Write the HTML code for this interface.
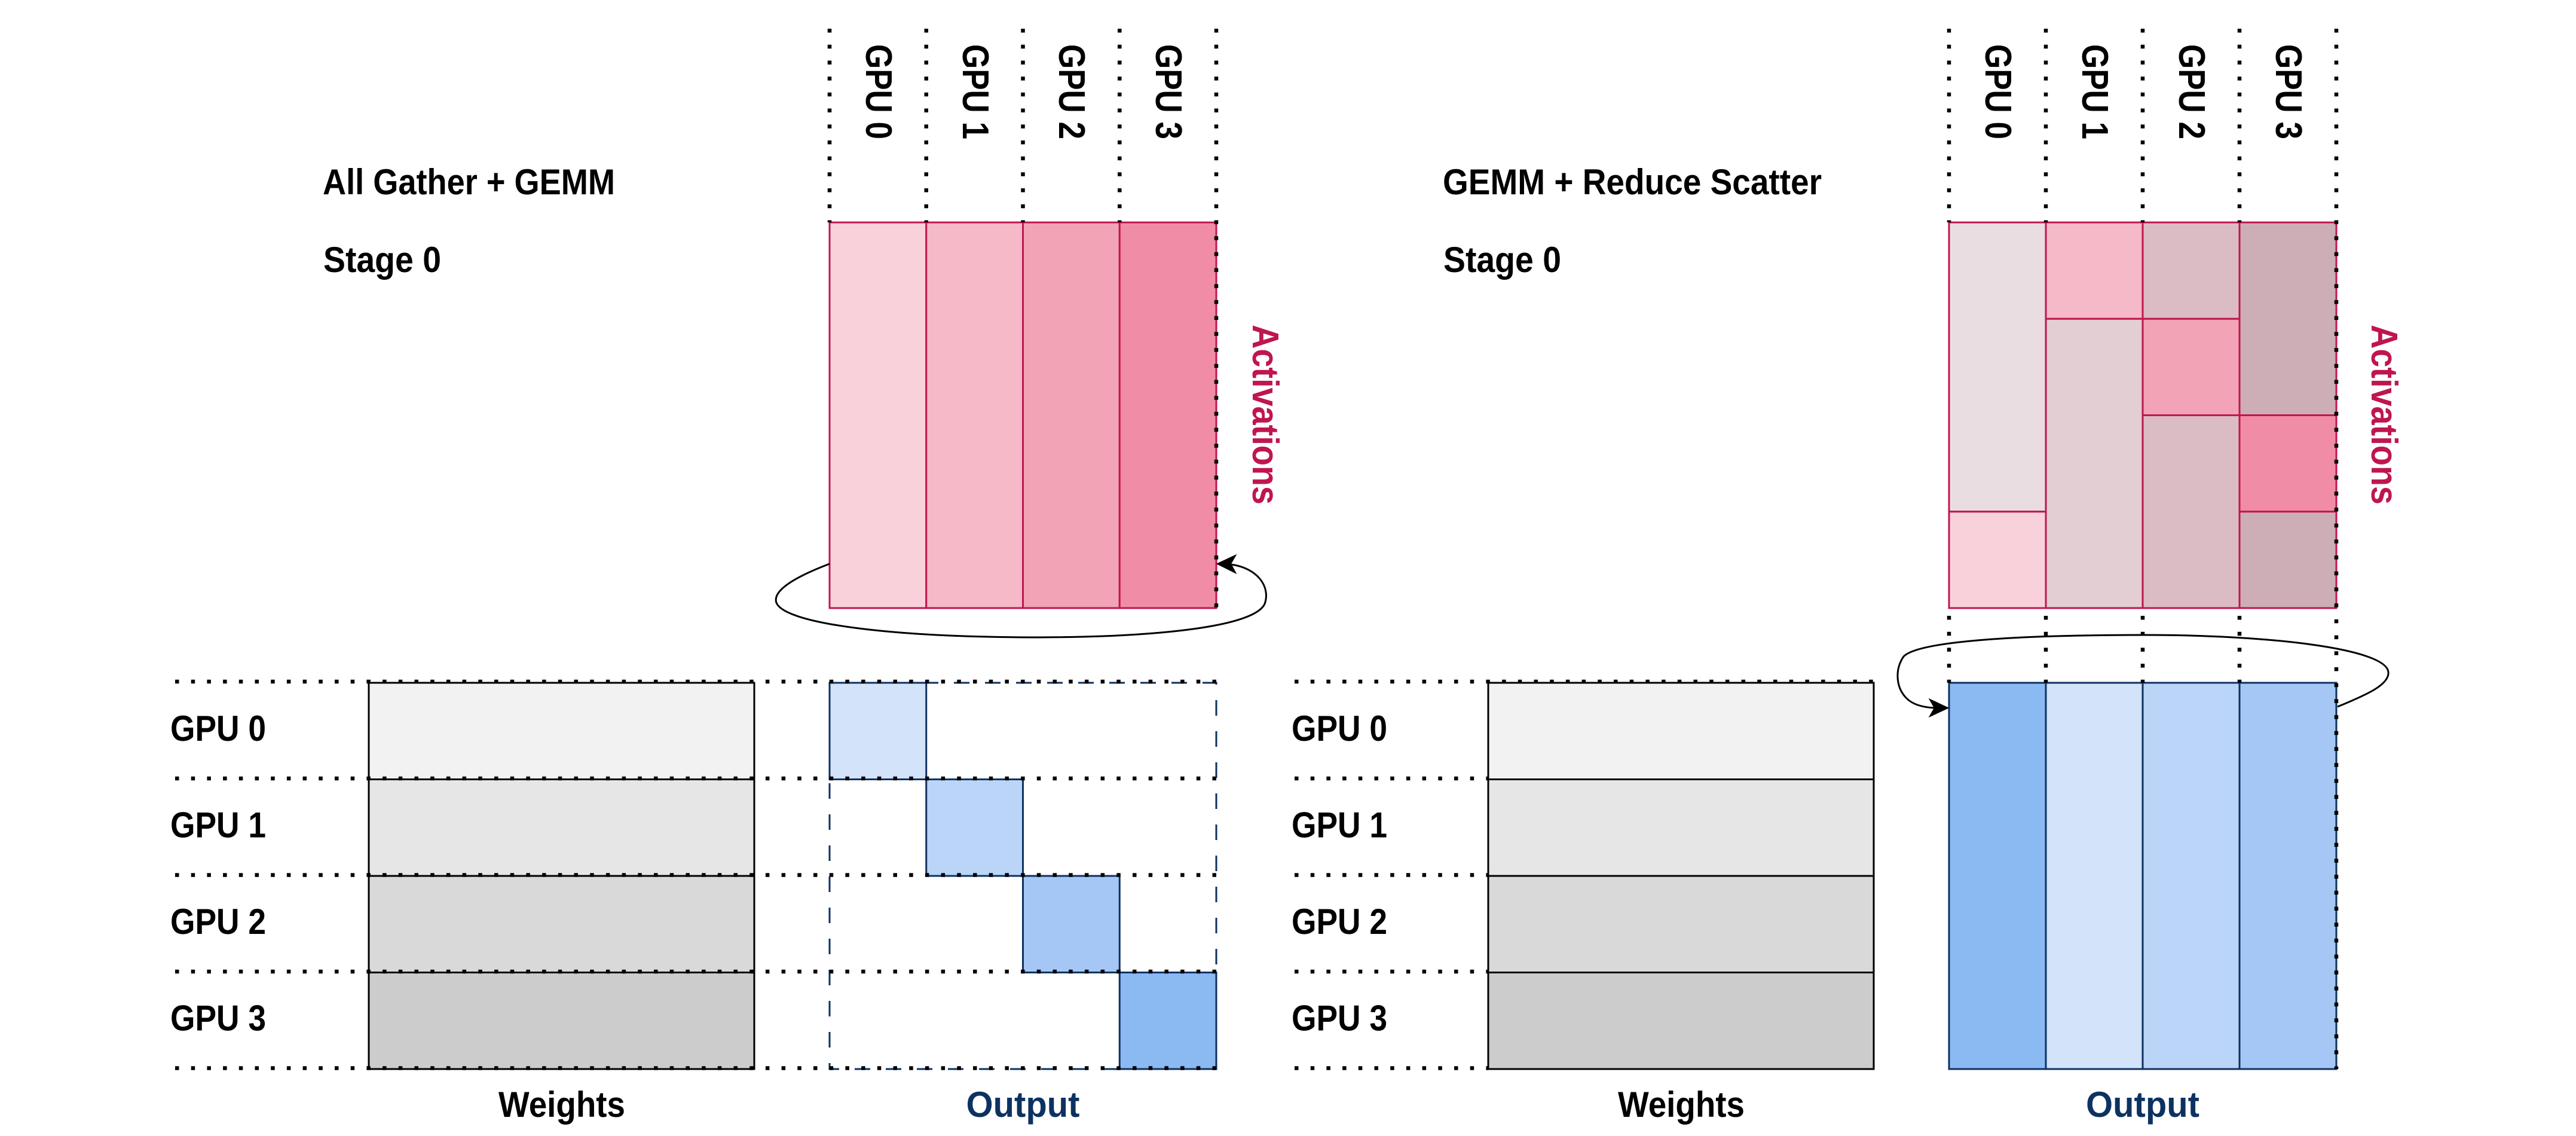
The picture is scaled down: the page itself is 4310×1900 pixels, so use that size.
<!DOCTYPE html>
<html>
<head>
<meta charset="utf-8">
<style>
  html, body { margin: 0; padding: 0; background: #ffffff; }
  svg { display: block; }
  text { font-family: "Liberation Sans", Arial, sans-serif; font-weight: bold; }
</style>
</head>
<body>
<svg width="4310" height="1900" viewBox="0 0 4310 1900" xmlns="http://www.w3.org/2000/svg">
  <rect x="0" y="0" width="4310" height="1900" fill="#ffffff"/>

  <!-- ===================== LEFT DIAGRAM ===================== -->
  <text x="540" y="325" font-size="60" fill="#000" textLength="489" lengthAdjust="spacingAndGlyphs">All Gather + GEMM</text>
  <text x="541" y="455" font-size="60" fill="#000" textLength="197" lengthAdjust="spacingAndGlyphs">Stage 0</text>

  <g font-size="62" fill="#000">
    <text transform="translate(1449,74) rotate(90)" textLength="159" lengthAdjust="spacingAndGlyphs">GPU 0</text>
    <text transform="translate(1611,74) rotate(90)" textLength="159" lengthAdjust="spacingAndGlyphs">GPU 1</text>
    <text transform="translate(1772,74) rotate(90)" textLength="159" lengthAdjust="spacingAndGlyphs">GPU 2</text>
    <text transform="translate(1934,74) rotate(90)" textLength="159" lengthAdjust="spacingAndGlyphs">GPU 3</text>
  </g>

  <g stroke="#bf1650" stroke-width="3">
    <rect x="1388" y="372" width="161.75" height="645" fill="#f9d1db"/>
    <rect x="1549.75" y="372" width="161.75" height="645" fill="#f5b9c8"/>
    <rect x="1711.5" y="372" width="161.75" height="645" fill="#f2a3b5"/>
    <rect x="1873.25" y="372" width="161.75" height="645" fill="#f08da5"/>
  </g>
  <text transform="translate(2096,543) rotate(90)" font-size="62" fill="#bf1650" textLength="301" lengthAdjust="spacingAndGlyphs">Activations</text>

  <path d="M1388,943 C1330,965 1292,988 1299,1008 C1312,1042 1480,1065 1724,1066 C1960,1066 2100,1045 2116,1010 C2126,982 2105,950 2059,944"
        fill="none" stroke="#000" stroke-width="3"/>
  <path d="M2037,943 L2067,929 L2059,943 L2067,958 Z" fill="#000" stroke="#000" stroke-width="2"/>

  <g stroke="#000" stroke-width="3">
    <rect x="617" y="1142" width="645" height="161.5" fill="#f2f2f2"/>
    <rect x="617" y="1303.5" width="645" height="161.5" fill="#e6e6e6"/>
    <rect x="617" y="1465" width="645" height="161.5" fill="#d9d9d9"/>
    <rect x="617" y="1626.5" width="645" height="161.5" fill="#cccccc"/>
  </g>

  <rect x="1388" y="1142" width="647" height="646" fill="none" stroke="#0e3161" stroke-width="3" stroke-dasharray="26 26"/>
  <g stroke="#0e3161" stroke-width="3">
    <rect x="1388" y="1142" width="161.75" height="161.5" fill="#d3e3f9"/>
    <rect x="1549.75" y="1303.5" width="161.75" height="161.5" fill="#bad5f7"/>
    <rect x="1711.5" y="1465" width="161.75" height="161.5" fill="#a4c7f5"/>
    <rect x="1873.25" y="1626.5" width="161.75" height="161.5" fill="#8bb9f2"/>
  </g>

  <g font-size="60" fill="#000">
    <text x="285" y="1239" textLength="160" lengthAdjust="spacingAndGlyphs">GPU 0</text>
    <text x="285" y="1400.5" textLength="160" lengthAdjust="spacingAndGlyphs">GPU 1</text>
    <text x="285" y="1562" textLength="160" lengthAdjust="spacingAndGlyphs">GPU 2</text>
    <text x="285" y="1723.5" textLength="160" lengthAdjust="spacingAndGlyphs">GPU 3</text>
  </g>

  <text x="940" y="1868" font-size="60" fill="#000" text-anchor="middle" textLength="212" lengthAdjust="spacingAndGlyphs">Weights</text>
  <text x="1711.5" y="1868" font-size="60" fill="#0d3261" text-anchor="middle" textLength="190" lengthAdjust="spacingAndGlyphs">Output</text>

  <g stroke="#000" stroke-width="6.5" stroke-dasharray="6.5 20.2" fill="none">
    <line x1="1388" y1="48" x2="1388" y2="372"/>
    <line x1="1549.75" y1="48" x2="1549.75" y2="372"/>
    <line x1="1711.5" y1="48" x2="1711.5" y2="372"/>
    <line x1="1873.25" y1="48" x2="1873.25" y2="372"/>
    <line x1="2035" y1="48" x2="2035" y2="1017"/>

    <line x1="293" y1="1140" x2="2035" y2="1140"/>
    <line x1="293" y1="1302" x2="2035" y2="1302"/>
    <line x1="293" y1="1463.5" x2="2035" y2="1463.5"/>
    <line x1="293" y1="1625" x2="2035" y2="1625"/>
    <line x1="293" y1="1786.5" x2="2035" y2="1786.5"/>
  </g>

  <!-- ===================== RIGHT DIAGRAM ===================== -->
  <text x="2414" y="325" font-size="60" fill="#000" textLength="634" lengthAdjust="spacingAndGlyphs">GEMM + Reduce Scatter</text>
  <text x="2415" y="455" font-size="60" fill="#000" textLength="197" lengthAdjust="spacingAndGlyphs">Stage 0</text>

  <g font-size="62" fill="#000">
    <text transform="translate(3322,74) rotate(90)" textLength="159" lengthAdjust="spacingAndGlyphs">GPU 0</text>
    <text transform="translate(3484,74) rotate(90)" textLength="159" lengthAdjust="spacingAndGlyphs">GPU 1</text>
    <text transform="translate(3646,74) rotate(90)" textLength="159" lengthAdjust="spacingAndGlyphs">GPU 2</text>
    <text transform="translate(3808,74) rotate(90)" textLength="159" lengthAdjust="spacingAndGlyphs">GPU 3</text>
  </g>

  <g stroke="#bf1650" stroke-width="3">
    <rect x="3261" y="372" width="162" height="483.75" fill="#eadde2"/>
    <rect x="3261" y="855.75" width="162" height="161.25" fill="#f9d1db"/>

    <rect x="3423" y="372" width="162" height="161.25" fill="#f5b9c8"/>
    <rect x="3423" y="533.25" width="162" height="483.75" fill="#e2ced3"/>

    <rect x="3585" y="372" width="162" height="161.25" fill="#dbbcc4"/>
    <rect x="3585" y="533.25" width="162" height="161.25" fill="#f2a3b5"/>
    <rect x="3585" y="694.5" width="162" height="322.5" fill="#dbbcc4"/>

    <rect x="3747" y="372" width="162" height="322.5" fill="#cdaeb6"/>
    <rect x="3747" y="694.5" width="162" height="161.25" fill="#f08da5"/>
    <rect x="3747" y="855.75" width="162" height="161.25" fill="#cdaeb6"/>
  </g>
  <text transform="translate(3968,543) rotate(90)" font-size="62" fill="#bf1650" textLength="301" lengthAdjust="spacingAndGlyphs">Activations</text>

  <g stroke="#000" stroke-width="3">
    <rect x="2490" y="1142" width="645" height="161.5" fill="#f2f2f2"/>
    <rect x="2490" y="1303.5" width="645" height="161.5" fill="#e6e6e6"/>
    <rect x="2490" y="1465" width="645" height="161.5" fill="#d9d9d9"/>
    <rect x="2490" y="1626.5" width="645" height="161.5" fill="#cccccc"/>
  </g>

  <g stroke="#0e3161" stroke-width="3">
    <rect x="3261" y="1142" width="162" height="646" fill="#8bb9f2"/>
    <rect x="3423" y="1142" width="162" height="646" fill="#d3e3f9"/>
    <rect x="3585" y="1142" width="162" height="646" fill="#bad5f7"/>
    <rect x="3747" y="1142" width="162" height="646" fill="#a4c7f5"/>
  </g>

  <g font-size="60" fill="#000">
    <text x="2161" y="1239" textLength="160" lengthAdjust="spacingAndGlyphs">GPU 0</text>
    <text x="2161" y="1400.5" textLength="160" lengthAdjust="spacingAndGlyphs">GPU 1</text>
    <text x="2161" y="1562" textLength="160" lengthAdjust="spacingAndGlyphs">GPU 2</text>
    <text x="2161" y="1723.5" textLength="160" lengthAdjust="spacingAndGlyphs">GPU 3</text>
  </g>

  <text x="2813" y="1868" font-size="60" fill="#000" text-anchor="middle" textLength="212" lengthAdjust="spacingAndGlyphs">Weights</text>
  <text x="3585" y="1868" font-size="60" fill="#0d3261" text-anchor="middle" textLength="190" lengthAdjust="spacingAndGlyphs">Output</text>

  <g stroke="#000" stroke-width="6.5" stroke-dasharray="6.5 20.2" fill="none">
    <line x1="3261" y1="48" x2="3261" y2="372"/>
    <line x1="3423" y1="48" x2="3423" y2="372"/>
    <line x1="3585" y1="48" x2="3585" y2="372"/>
    <line x1="3747" y1="48" x2="3747" y2="372"/>
    <line x1="3909" y1="48" x2="3909" y2="1788"/>

    <line x1="3261" y1="1030" x2="3261" y2="1142"/>
    <line x1="3423" y1="1030" x2="3423" y2="1142"/>
    <line x1="3585" y1="1030" x2="3585" y2="1142"/>
    <line x1="3747" y1="1030" x2="3747" y2="1142"/>

    <line x1="2166" y1="1140" x2="3135" y2="1140"/>
    <line x1="2166" y1="1302" x2="2490" y2="1302"/>
    <line x1="2166" y1="1463.5" x2="2490" y2="1463.5"/>
    <line x1="2166" y1="1625" x2="2490" y2="1625"/>
    <line x1="2166" y1="1786.5" x2="2490" y2="1786.5"/>
  </g>

  <path d="M3911,1182 C3960,1162 3998,1145 3996,1124 C3992,1085 3800,1062 3587,1062 C3380,1062 3210,1072 3185,1098 C3170,1120 3172,1150 3190,1168 C3200,1178 3215,1183 3237,1184"
        fill="none" stroke="#000" stroke-width="3"/>
  <path d="M3259,1184 L3229,1170 L3237,1184 L3229,1198 Z" fill="#000" stroke="#000" stroke-width="2"/>
</svg>
</body>
</html>
